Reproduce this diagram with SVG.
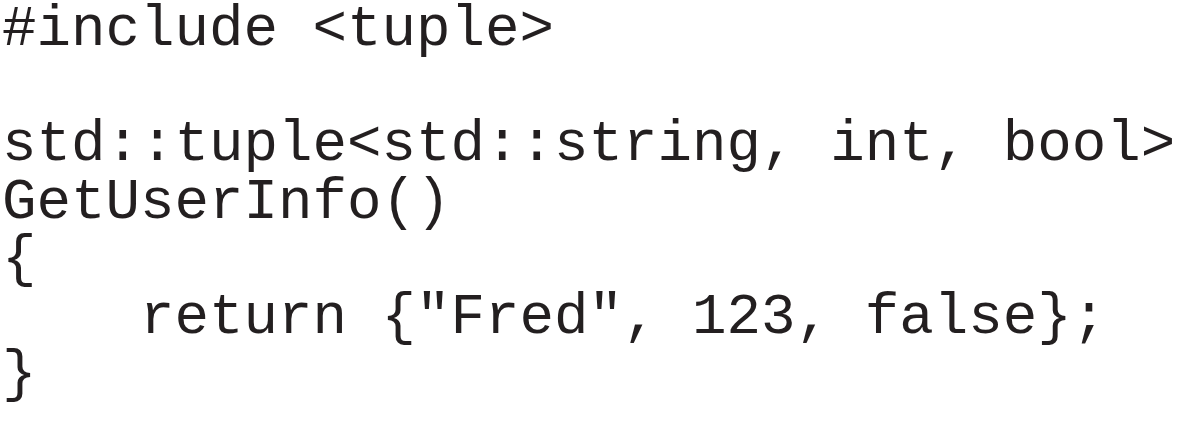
<svg xmlns="http://www.w3.org/2000/svg" width="1178" height="429" viewBox="0 0 1178 429">
<style>
text{font-family:"Courier New","Nimbus Mono PS","Nimbus Mono L","FreeMono","Liberation Mono",monospace;font-size:57.5px;fill:#231f20;white-space:pre}
</style>
<rect width="1178" height="429" fill="#ffffff"/>
<g id="code">
<text x="2" y="45">#include &lt;tuple&gt;</text>
<text x="2" y="160">std::tuple&lt;std::string, int, bool&gt;</text>
<text x="2" y="217.5">GetUserInfo()</text>
<text x="2" y="275">{</text>
<text x="2" y="332.5">    return {"Fred", 123, false};</text>
<text x="2" y="390">}</text>
</g>
</svg>
